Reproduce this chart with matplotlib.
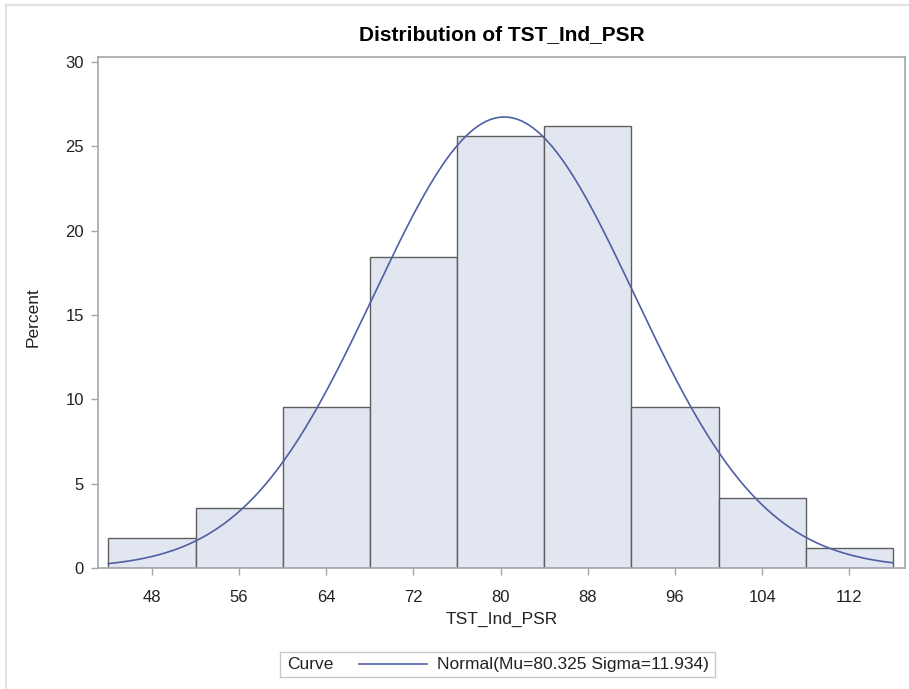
import numpy as np
import matplotlib
matplotlib.use('Agg')
import matplotlib.pyplot as plt
from matplotlib.lines import Line2D
from matplotlib.patches import Rectangle

plt.rcParams['font.family'] = ['Liberation Sans', 'DejaVu Sans']

# histogram data (percent per bin, bin midpoints)
midpoints = [48, 56, 64, 72, 80, 88, 96, 104, 112]
percents = [1.786, 3.571, 9.524, 18.452, 25.595, 26.190, 9.524, 4.167, 1.190]
bin_width = 8
mu = 80.325
sigma = 11.934
yticks = [0, 5, 10, 15, 20, 25, 30]

fill_col = '#e1e6f0'
edge_col = '#5f5f5f'
curve_col = '#4f5fa3'
axis_col = '#a3a8ad'
text_col = '#222222'

fig = plt.figure(figsize=(9.09, 6.89), dpi=100)
ax = fig.add_axes([98/909, 1 - 568/689, (905 - 98)/909, (568 - 57)/689])

ax.bar(midpoints, percents, width=bin_width, color=fill_col,
       edgecolor=edge_col, linewidth=1.0, zorder=2)

# fitted normal curve scaled to percent
lo = midpoints[0] - bin_width / 2
hi = midpoints[-1] + bin_width / 2
xs = np.linspace(lo, hi, 400)
ys = 100 * bin_width * np.exp(-0.5 * ((xs - mu) / sigma) ** 2) / (sigma * np.sqrt(2 * np.pi))
ax.plot(xs, ys, color=curve_col, lw=1.2, zorder=3)

ax.set_xlim(43.05, 117.1)
ax.set_ylim(0, 30.3)
ax.set_xticks(midpoints)
ax.set_yticks(yticks)
for s in ax.spines.values():
    s.set_color(axis_col)
    s.set_linewidth(1.2)
ax.tick_params(colors=axis_col, labelcolor=text_col, labelsize=12, length=5, width=1)
ax.tick_params(axis='x', pad=11)
ax.tick_params(axis='y', pad=5)

ax.set_xlabel('TST_Ind_PSR', fontsize=12.5, color=text_col)
ax.xaxis.set_label_coords(0.5, -0.086)
ax.set_ylabel('Percent', fontsize=12.5, color=text_col)
ax.yaxis.set_label_coords(-0.071, 0.49)
ax.set_title('Distribution of TST_Ind_PSR', fontsize=15, fontweight='bold', pad=12)

# legend box
W, H = 909, 689
fig.add_artist(Rectangle((280/W, 1 - 677/H), (715 - 280)/W, (677 - 652)/H,
                         transform=fig.transFigure, facecolor='white',
                         edgecolor='#c8c8c8', lw=1))
fig.text(287/W, 1 - 664.5/H, 'Curve', fontsize=12.5, va='center', ha='left', color=text_col)
fig.add_artist(Line2D([359/W, 427/W], [1 - 664/H, 1 - 664/H],
                      transform=fig.transFigure, color=curve_col, lw=1.2))
fig.text(437/W, 1 - 664.5/H, 'Normal(Mu=%.3f Sigma=%.3f)' % (mu, sigma),
         fontsize=12.5, va='center', ha='left', color=text_col)

# screenshot frame lines
fig.add_artist(Line2D([6/W, 1], [1 - 5/H, 1 - 5/H], transform=fig.transFigure,
                      color='#e2e2e2', lw=1.5))
fig.add_artist(Line2D([6/W, 6/W], [0, 1 - 5/H], transform=fig.transFigure,
                      color='#e2e2e2', lw=1.5))

fig.savefig('out.png', dpi=100)
